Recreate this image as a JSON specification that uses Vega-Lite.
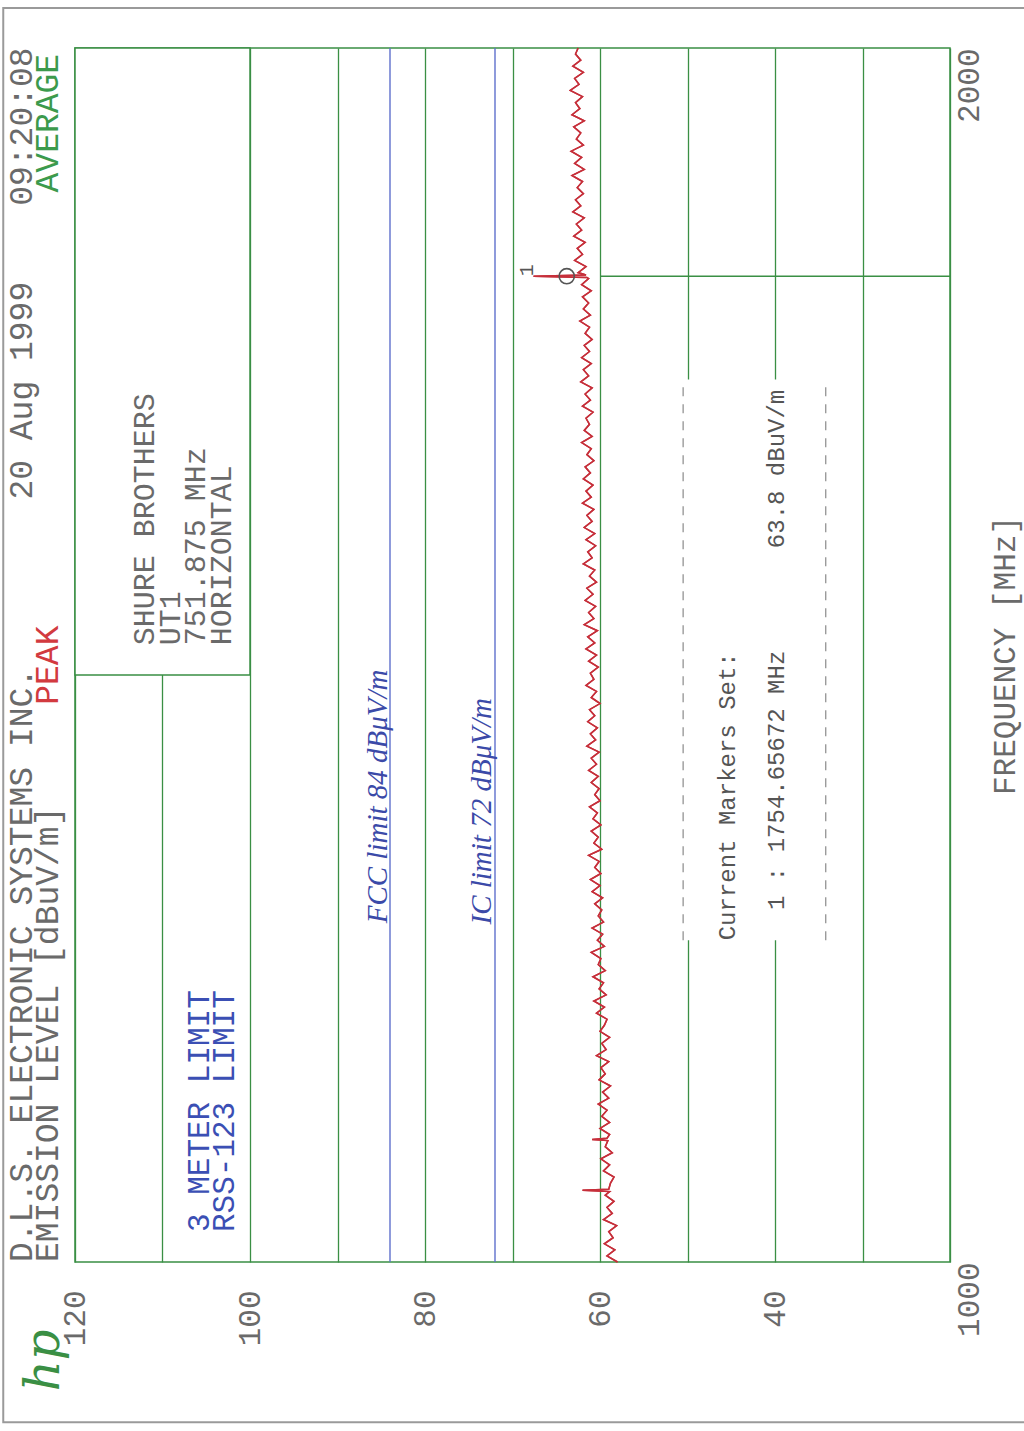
{
  "$schema": "https://vega.github.io/schema/vega-lite/v6.json",
  "width": 875,
  "height": 1214,
  "autosize": {"type": "none"},
  "padding": {"left": 75, "top": 48, "right": 74, "bottom": 169},
  "background": "#ffffff",
  "config": {"view": {"stroke": "#3a8f44", "strokeWidth": 1.5}, "font": "Liberation Mono"},
  "datasets": {
    "trace": [
      {"f": 1000, "dB": 58.0}, {"f": 1005, "dB": 59.2}, {"f": 1010, "dB": 58.3}, {"f": 1015, "dB": 59.5},
      {"f": 1020, "dB": 58.5}, {"f": 1025, "dB": 59.0}, {"f": 1030, "dB": 58.1}, {"f": 1035, "dB": 59.6},
      {"f": 1040, "dB": 58.6}, {"f": 1045, "dB": 59.2}, {"f": 1050, "dB": 58.4}, {"f": 1055, "dB": 59.4},
      {"f": 1058, "dB": 58.9}, {"f": 1059, "dB": 62.0}, {"f": 1060, "dB": 59.0}, {"f": 1065, "dB": 58.8},
      {"f": 1070, "dB": 58.4}, {"f": 1075, "dB": 59.6}, {"f": 1080, "dB": 58.9}, {"f": 1085, "dB": 59.9},
      {"f": 1090, "dB": 58.6}, {"f": 1095, "dB": 59.4}, {"f": 1100, "dB": 59.1}, {"f": 1101, "dB": 60.9},
      {"f": 1102, "dB": 59.2}, {"f": 1105, "dB": 58.9}, {"f": 1110, "dB": 60.0}, {"f": 1115, "dB": 58.9},
      {"f": 1120, "dB": 59.8}, {"f": 1125, "dB": 59.2}, {"f": 1130, "dB": 60.2}, {"f": 1135, "dB": 59.0},
      {"f": 1140, "dB": 59.7}, {"f": 1145, "dB": 58.8}, {"f": 1150, "dB": 60.1}, {"f": 1155, "dB": 59.4},
      {"f": 1160, "dB": 59.9}, {"f": 1165, "dB": 59.0}, {"f": 1170, "dB": 60.4}, {"f": 1175, "dB": 59.3},
      {"f": 1180, "dB": 59.8}, {"f": 1185, "dB": 58.9}, {"f": 1190, "dB": 60.0}, {"f": 1195, "dB": 59.5},
      {"f": 1200, "dB": 59.2}, {"f": 1205, "dB": 60.4}, {"f": 1210, "dB": 59.5}, {"f": 1215, "dB": 60.7},
      {"f": 1220, "dB": 59.3}, {"f": 1225, "dB": 60.1}, {"f": 1230, "dB": 59.6}, {"f": 1235, "dB": 60.8},
      {"f": 1240, "dB": 59.4}, {"f": 1245, "dB": 60.2}, {"f": 1250, "dB": 59.9}, {"f": 1255, "dB": 61.0},
      {"f": 1260, "dB": 59.5}, {"f": 1265, "dB": 60.3}, {"f": 1270, "dB": 59.7}, {"f": 1275, "dB": 60.9},
      {"f": 1280, "dB": 59.6}, {"f": 1285, "dB": 60.2}, {"f": 1290, "dB": 59.8}, {"f": 1295, "dB": 60.6},
      {"f": 1300, "dB": 59.7}, {"f": 1305, "dB": 60.9}, {"f": 1310, "dB": 60.0}, {"f": 1315, "dB": 61.1},
      {"f": 1320, "dB": 59.9}, {"f": 1325, "dB": 60.6}, {"f": 1330, "dB": 60.1}, {"f": 1335, "dB": 61.3},
      {"f": 1340, "dB": 59.8}, {"f": 1345, "dB": 60.7}, {"f": 1350, "dB": 60.2}, {"f": 1355, "dB": 61.0},
      {"f": 1360, "dB": 59.9}, {"f": 1365, "dB": 60.8}, {"f": 1370, "dB": 60.3}, {"f": 1375, "dB": 61.2},
      {"f": 1380, "dB": 60.0}, {"f": 1385, "dB": 60.6}, {"f": 1390, "dB": 60.1}, {"f": 1395, "dB": 61.0},
      {"f": 1400, "dB": 60.2}, {"f": 1405, "dB": 61.3}, {"f": 1410, "dB": 60.4}, {"f": 1415, "dB": 61.0},
      {"f": 1420, "dB": 60.1}, {"f": 1425, "dB": 61.5}, {"f": 1430, "dB": 60.5}, {"f": 1435, "dB": 61.1},
      {"f": 1440, "dB": 60.3}, {"f": 1445, "dB": 61.4}, {"f": 1450, "dB": 60.6}, {"f": 1455, "dB": 61.2},
      {"f": 1460, "dB": 60.0}, {"f": 1465, "dB": 61.0}, {"f": 1470, "dB": 60.4}, {"f": 1475, "dB": 61.6},
      {"f": 1480, "dB": 60.7}, {"f": 1485, "dB": 61.1}, {"f": 1490, "dB": 60.2}, {"f": 1495, "dB": 61.3},
      {"f": 1500, "dB": 60.4}, {"f": 1505, "dB": 61.6}, {"f": 1510, "dB": 60.6}, {"f": 1515, "dB": 61.4},
      {"f": 1520, "dB": 60.3}, {"f": 1525, "dB": 61.8}, {"f": 1530, "dB": 60.7}, {"f": 1535, "dB": 61.3},
      {"f": 1540, "dB": 60.5}, {"f": 1545, "dB": 61.7}, {"f": 1550, "dB": 60.8}, {"f": 1555, "dB": 61.5},
      {"f": 1560, "dB": 60.4}, {"f": 1565, "dB": 61.2}, {"f": 1570, "dB": 60.6}, {"f": 1575, "dB": 61.9},
      {"f": 1580, "dB": 60.9}, {"f": 1585, "dB": 61.4}, {"f": 1590, "dB": 60.5}, {"f": 1595, "dB": 61.6},
      {"f": 1600, "dB": 60.6}, {"f": 1605, "dB": 61.8}, {"f": 1610, "dB": 60.9}, {"f": 1615, "dB": 61.5},
      {"f": 1620, "dB": 60.7}, {"f": 1625, "dB": 62.0}, {"f": 1630, "dB": 61.0}, {"f": 1635, "dB": 61.6},
      {"f": 1640, "dB": 60.8}, {"f": 1645, "dB": 61.9}, {"f": 1650, "dB": 61.1}, {"f": 1655, "dB": 61.7},
      {"f": 1660, "dB": 60.7}, {"f": 1665, "dB": 61.5}, {"f": 1670, "dB": 61.0}, {"f": 1675, "dB": 62.1},
      {"f": 1680, "dB": 60.9}, {"f": 1685, "dB": 61.8}, {"f": 1690, "dB": 61.2}, {"f": 1695, "dB": 61.6},
      {"f": 1700, "dB": 60.8}, {"f": 1705, "dB": 62.0}, {"f": 1710, "dB": 61.1}, {"f": 1715, "dB": 61.7},
      {"f": 1720, "dB": 60.9}, {"f": 1725, "dB": 62.2}, {"f": 1730, "dB": 61.3}, {"f": 1735, "dB": 61.9},
      {"f": 1740, "dB": 61.0}, {"f": 1745, "dB": 62.1}, {"f": 1750, "dB": 61.2}, {"f": 1755, "dB": 61.8},
      {"f": 1760, "dB": 60.9}, {"f": 1765, "dB": 61.7}, {"f": 1770, "dB": 61.2}, {"f": 1775, "dB": 62.3},
      {"f": 1780, "dB": 61.1}, {"f": 1785, "dB": 61.9}, {"f": 1790, "dB": 61.3}, {"f": 1795, "dB": 62.0},
      {"f": 1800, "dB": 61.0}, {"f": 1805, "dB": 62.1}, {"f": 1810, "dB": 61.3}, {"f": 1811, "dB": 61.5},
      {"f": 1812, "dB": 67.6}, {"f": 1813, "dB": 61.6}, {"f": 1815, "dB": 62.5}, {"f": 1820, "dB": 61.6},
      {"f": 1825, "dB": 62.9}, {"f": 1830, "dB": 62.0}, {"f": 1835, "dB": 62.6}, {"f": 1840, "dB": 61.7},
      {"f": 1845, "dB": 63.0}, {"f": 1850, "dB": 62.1}, {"f": 1855, "dB": 62.7}, {"f": 1860, "dB": 61.8},
      {"f": 1865, "dB": 63.1}, {"f": 1870, "dB": 62.2}, {"f": 1875, "dB": 62.8}, {"f": 1880, "dB": 61.9},
      {"f": 1885, "dB": 62.6}, {"f": 1890, "dB": 62.0}, {"f": 1895, "dB": 63.2}, {"f": 1900, "dB": 61.8},
      {"f": 1905, "dB": 62.9}, {"f": 1910, "dB": 62.1}, {"f": 1915, "dB": 63.3}, {"f": 1920, "dB": 61.9},
      {"f": 1925, "dB": 62.7}, {"f": 1930, "dB": 62.2}, {"f": 1935, "dB": 63.0}, {"f": 1940, "dB": 61.8},
      {"f": 1945, "dB": 63.2}, {"f": 1950, "dB": 62.3}, {"f": 1955, "dB": 62.8}, {"f": 1960, "dB": 62.0},
      {"f": 1965, "dB": 63.4}, {"f": 1970, "dB": 62.4}, {"f": 1975, "dB": 62.9}, {"f": 1980, "dB": 61.9},
      {"f": 1985, "dB": 63.1}, {"f": 1990, "dB": 62.2}, {"f": 1995, "dB": 62.8}, {"f": 2000, "dB": 62.5}
    ],
    "limits": [
      {"limit": "FCC", "dB": 84},
      {"limit": "IC", "dB": 72}
    ],
    "marker": [
      {"marker": "1", "f": 1812, "dB": 63.8}
    ]
  },
  "layer": [
    {
      "data": {"values": [{}]},
      "mark": {"type": "rect", "fillOpacity": 0, "stroke": "#9a9a9a", "strokeWidth": 2},
      "encoding": {
        "x": {"datum": 128.2}, "x2": {"datum": 10},
        "y": {"datum": 2033}, "y2": {"datum": 868}
      }
    },
    {
      "data": {"name": "trace"},
      "mark": {"type": "line", "color": "#c62f3a", "strokeWidth": 1.5},
      "encoding": {
        "x": {
          "field": "dB", "type": "quantitative",
          "scale": {"domain": [120, 20], "nice": false, "zero": false},
          "axis": {
            "values": [120, 110, 100, 90, 80, 70, 60, 50, 40, 30, 20],
            "labelExpr": "datum.value % 20 == 0 && datum.value >= 40 ? datum.label : ''",
            "grid": true, "gridColor": "#3a8f44", "gridWidth": 1.3, "gridOpacity": 1,
            "domain": false, "ticks": false, "tickSize": 0,
            "labelAngle": 270, "labelAlign": "right", "labelBaseline": "middle", "labelPadding": 28,
            "labelFont": "Liberation Mono", "labelFontSize": 31, "labelColor": "#6a6a6a",
            "labelFlush": false, "labelOverlap": false, "title": null
          }
        },
        "y": {
          "field": "f", "type": "quantitative",
          "scale": {"domain": [1000, 2000], "nice": false, "zero": false},
          "axis": {
            "orient": "right", "values": [1000, 2000], "format": "d", "grid": false,
            "domain": false, "ticks": false, "tickSize": 0,
            "labelAngle": 270, "labelAlign": "right", "labelBaseline": "top", "labelPadding": 4,
            "labelFont": "Liberation Mono", "labelFontSize": 31, "labelColor": "#6a6a6a",
            "labelFlush": false, "labelOverlap": false,
            "title": "FREQUENCY  [MHz]", "titleAngle": 270, "titleBaseline": "top",
            "titleFont": "Liberation Mono", "titleFontSize": 31, "titleFontWeight": "normal",
            "titleColor": "#6a6a6a", "titlePadding": 6
          }
        },
        "order": {"field": "f", "type": "quantitative"}
      }
    },
    {
      "data": {"values": [{}]},
      "mark": {"type": "rect", "fill": "#ffffff", "stroke": "#3a8f44", "strokeWidth": 1.5},
      "encoding": {
        "x": {"datum": 120}, "x2": {"datum": 100},
        "y": {"datum": 1483.5}, "y2": {"datum": 2000}
      }
    },
    {
      "data": {"values": [{}]},
      "mark": {"type": "rect", "fill": "#ffffff"},
      "encoding": {
        "x": {"datum": 51}, "x2": {"datum": 33.5},
        "y": {"datum": 1265}, "y2": {"datum": 1727}
      }
    },
    {
      "data": {"values": [{"edge": "left", "dB": 50.5}, {"edge": "right", "dB": 34.2}]},
      "mark": {"type": "rule", "color": "#8a8a8a", "strokeWidth": 1.2, "strokeDash": [9, 8]},
      "encoding": {
        "x": {"field": "dB", "type": "quantitative"},
        "y": {"datum": 1265}, "y2": {"datum": 1727}
      }
    },
    {
      "data": {"name": "limits"},
      "mark": {"type": "rule", "color": "#5f70cc", "strokeWidth": 1.4},
      "encoding": {
        "x": {"field": "dB", "type": "quantitative"},
        "y": {"datum": 1000}, "y2": {"datum": 2000}
      }
    },
    {
      "data": {"values": [{}]},
      "mark": {"type": "rule", "color": "#3a8f44", "strokeWidth": 1.3},
      "encoding": {
        "x": {"datum": 60}, "x2": {"datum": 20},
        "y": {"datum": 1812}
      }
    },
    {
      "data": {"name": "trace"},
      "mark": {"type": "line", "color": "#c62f3a", "strokeWidth": 1.5},
      "encoding": {
        "x": {"field": "dB", "type": "quantitative"},
        "y": {"field": "f", "type": "quantitative"},
        "order": {"field": "f", "type": "quantitative"}
      }
    },
    {
      "data": {"name": "marker"},
      "mark": {"type": "point", "shape": "circle", "filled": false, "size": 230, "color": "#555555", "strokeWidth": 1.6, "opacity": 1},
      "encoding": {
        "x": {"field": "dB", "type": "quantitative"},
        "y": {"field": "f", "type": "quantitative"}
      }
    },
    {
      "data": {"name": "marker"},
      "mark": {"type": "text", "angle": 270, "align": "center", "baseline": "middle", "font": "Liberation Mono", "fontSize": 20, "color": "#555555"},
      "encoding": {
        "x": {"datum": 68.3},
        "y": {"datum": 1817},
        "text": {"field": "marker"}
      }
    },
    {
      "data": {"values": [{}]},
      "mark": {"type": "text", "angle": 270, "align": "left", "baseline": "middle", "font": "Liberation Mono", "fontSize": 33, "color": "#6a6a6a", "text": "D.L.S. ELECTRONIC SYSTEMS INC."},
      "encoding": {"x": {"datum": 126.06}, "y": {"datum": 1000}}
    },
    {
      "data": {"values": [{}]},
      "mark": {"type": "text", "angle": 270, "align": "left", "baseline": "middle", "font": "Liberation Mono", "fontSize": 33, "color": "#6a6a6a", "text": "20 Aug 1999"},
      "encoding": {"x": {"datum": 126.06}, "y": {"datum": 1628}}
    },
    {
      "data": {"values": [{}]},
      "mark": {"type": "text", "angle": 270, "align": "left", "baseline": "middle", "font": "Liberation Mono", "fontSize": 33, "color": "#6a6a6a", "text": "09:20:08"},
      "encoding": {"x": {"datum": 126.06}, "y": {"datum": 1870}}
    },
    {
      "data": {"values": [{}]},
      "mark": {"type": "text", "angle": 270, "align": "left", "baseline": "middle", "font": "Liberation Mono", "fontSize": 33, "color": "#6a6a6a", "text": "EMISSION LEVEL [dBuV/m]"},
      "encoding": {"x": {"datum": 123.1}, "y": {"datum": 1000}}
    },
    {
      "data": {"values": [{}]},
      "mark": {"type": "text", "angle": 270, "align": "left", "baseline": "middle", "font": "Liberation Mono", "fontSize": 33, "color": "#d23a3f", "text": "PEAK"},
      "encoding": {"x": {"datum": 123.1}, "y": {"datum": 1459}}
    },
    {
      "data": {"values": [{}]},
      "mark": {"type": "text", "angle": 270, "align": "left", "baseline": "middle", "font": "Liberation Mono", "fontSize": 33, "color": "#3c9a4c", "text": "AVERAGE"},
      "encoding": {"x": {"datum": 123.1}, "y": {"datum": 1881}}
    },
    {
      "data": {"values": [{}]},
      "mark": {"type": "text", "angle": 270, "align": "center", "baseline": "middle", "font": "DejaVu Serif", "fontStyle": "italic", "fontSize": 48, "color": "#3a8f44", "text": "hp"},
      "encoding": {"x": {"datum": 123.4}, "y": {"datum": 919}}
    },
    {
      "data": {"values": [{}]},
      "mark": {"type": "text", "angle": 270, "align": "left", "baseline": "middle", "font": "Liberation Mono", "fontSize": 30, "lineHeight": 25.7, "color": "#6a6a6a", "text": ["SHURE BROTHERS", "UT1", "751.875 MHz", "HORIZONTAL"]},
      "encoding": {"x": {"datum": 112.0}, "y": {"datum": 1508}}
    },
    {
      "data": {"values": [{}]},
      "mark": {"type": "text", "angle": 270, "align": "left", "baseline": "middle", "font": "Liberation Mono", "fontSize": 31, "lineHeight": 25, "color": "#3b4fb4", "text": ["3 METER LIMIT", "RSS-123 LIMIT"]},
      "encoding": {"x": {"datum": 105.7}, "y": {"datum": 1024.7}}
    },
    {
      "data": {"values": [{}]},
      "mark": {"type": "text", "angle": 270, "align": "left", "baseline": "middle", "font": "Liberation Serif", "fontStyle": "italic", "fontSize": 29, "color": "#3b4aa8", "text": "FCC   limit    84 dBμV/m"},
      "encoding": {"x": {"datum": 85.4}, "y": {"datum": 1279}}
    },
    {
      "data": {"values": [{}]},
      "mark": {"type": "text", "angle": 270, "align": "left", "baseline": "middle", "font": "Liberation Serif", "fontStyle": "italic", "fontSize": 29, "color": "#3b4aa8", "text": "IC   limit    72 dBμV/m"},
      "encoding": {"x": {"datum": 73.5}, "y": {"datum": 1278}}
    },
    {
      "data": {"values": [{}]},
      "mark": {"type": "text", "angle": 270, "align": "left", "baseline": "middle", "font": "Liberation Mono", "fontSize": 24, "color": "#555555", "text": "Current Markers Set:"},
      "encoding": {"x": {"datum": 45.4}, "y": {"datum": 1265}}
    },
    {
      "data": {"values": [{}]},
      "mark": {"type": "text", "angle": 270, "align": "left", "baseline": "middle", "font": "Liberation Mono", "fontSize": 24, "color": "#555555", "text": "1 : 1754.65672 MHz"},
      "encoding": {"x": {"datum": 39.8}, "y": {"datum": 1290}}
    },
    {
      "data": {"values": [{}]},
      "mark": {"type": "text", "angle": 270, "align": "left", "baseline": "middle", "font": "Liberation Mono", "fontSize": 24, "color": "#555555", "text": "63.8 dBuV/m"},
      "encoding": {"x": {"datum": 39.8}, "y": {"datum": 1588}}
    }
  ]
}
